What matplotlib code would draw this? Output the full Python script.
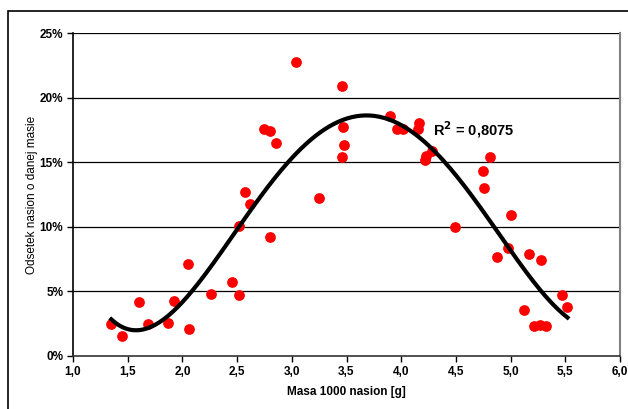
import numpy as np
import matplotlib.pyplot as plt
from matplotlib.patches import Rectangle
from matplotlib.ticker import FuncFormatter

plt.rcParams['font.family'] = ['Liberation Sans', 'DejaVu Sans']
plt.rcParams['font.weight'] = 'bold'

# seed mass [g] and share of seeds [%]
masa = [1.35, 1.45, 1.60, 1.69, 1.87, 1.92, 2.05, 2.06, 2.26, 2.45, 2.52, 2.52,
        2.57, 2.62, 2.80, 2.75, 2.80, 2.86, 3.04, 3.25, 3.46, 3.47, 3.48, 3.46,
        3.90, 3.96, 4.02, 4.16, 4.15, 4.22, 4.23, 4.28, 4.49, 4.75, 4.76, 4.81,
        4.88, 4.98, 5.00, 5.12, 5.17, 5.21, 5.27, 5.28, 5.32, 5.47, 5.52]
odsetek = [2.48, 1.55, 4.18, 2.48, 2.55, 4.26, 7.12, 2.09, 4.80, 5.73, 4.72, 10.06,
           12.7, 11.76, 9.2, 17.6, 17.4, 16.5, 22.75, 12.2, 20.9, 17.7, 16.3, 15.4,
           18.6, 17.6, 17.6, 18.0, 17.6, 15.2, 15.5, 15.9, 10.0, 14.3, 13.0, 15.4,
           7.66, 8.36, 10.9, 3.56, 7.9, 2.32, 2.4, 7.43, 2.32, 4.72, 3.79]
r2_label = 'R$^2$ = 0,8075'

x = np.array(masa)
y = np.array(odsetek)
coef = np.polyfit(x, y, 4)  # polynomial trendline like in Excel
xs = np.linspace(x.min(), x.max(), 200)
ys = np.polyval(coef, xs)

fig = plt.figure(figsize=(6.28, 4.09), dpi=100)
ax = fig.add_axes([73/628, 1-356/409, 547/628, 323/409])

for g in [5, 10, 15, 20, 25]:
    ax.axhline(g, color='black', lw=0.9, zorder=1)

ax.scatter(x, y, s=60, color='#ff0000', zorder=3, linewidths=0)
ax.plot(xs, ys, color='black', lw=3, zorder=4)
ax.text(4.29, 17.5, r2_label, fontsize=10.5, fontweight='bold', va='center', ha='left')

ax.set_xlim(1.0, 6.0)
ax.set_ylim(0, 25)
ax.set_xticks(np.arange(1.0, 6.01, 0.5))
ax.set_yticks(range(0, 26, 5))
ax.xaxis.set_major_formatter(FuncFormatter(lambda v, p: f'{v:.1f}'.replace('.', ',')))
ax.yaxis.set_major_formatter(FuncFormatter(lambda v, p: f'{v:.0f}%'))
ax.tick_params(direction='out', length=4, width=1, labelsize=8.5, pad=3, color='black')
for lab in ax.get_xticklabels() + ax.get_yticklabels():
    lab.set_fontweight('bold')

ax.spines['top'].set_visible(False)
ax.spines['right'].set_color('#808080')
ax.spines['right'].set_linewidth(1.5)
ax.spines['left'].set_linewidth(1.2)
ax.spines['bottom'].set_linewidth(1.2)
ax.spines['bottom'].set_color('#333333')

ax.set_xlabel('Masa 1000 nasion [g]', fontsize=8.5, fontweight='bold', labelpad=6)
ax.set_ylabel('Odsetek nasion o danej masie', fontsize=8.5, fontweight='normal', labelpad=1)

fig.patches.append(Rectangle((8/628, -0.1), 1.2, 1-11/409+0.1, transform=fig.transFigure,
                             fill=False, edgecolor='black', lw=1.2))

fig.savefig('out.png', dpi=100)
